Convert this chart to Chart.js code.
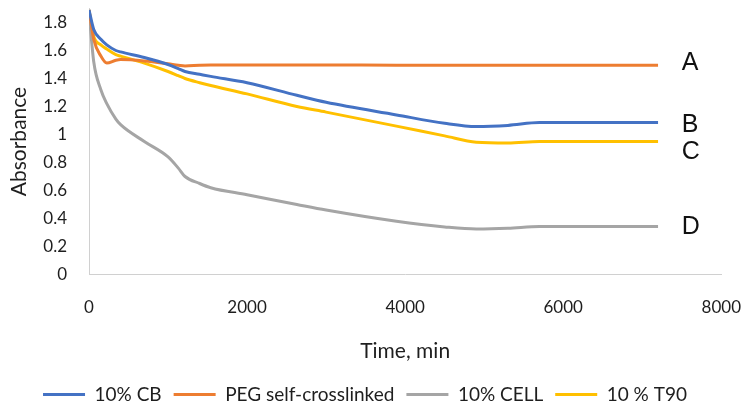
<!DOCTYPE html>
<html>
<head>
<meta charset="utf-8">
<script src="https://cdn.jsdelivr.net/npm/chart.js@4/dist/chart.umd.min.js"></script>
<style>
  html, body { margin: 0; padding: 0; background: #fff; }
  #wrap { width: 756px; height: 407px; }
</style>
</head>
<body>
<div id="wrap"><canvas id="absChart"></canvas></div>
<script>
const times = [0, 60, 150, 225, 340, 400, 700, 1000, 1130, 1215, 1400, 1540, 2000, 2630, 3000, 3890, 4500, 4900, 5300, 5700, 7200];
const cb    = [1.89, 1.75, 1.68, 1.64, 1.60, 1.59, 1.55, 1.50, 1.47, 1.45, 1.43, 1.415, 1.37, 1.28, 1.23, 1.14, 1.08, 1.057, 1.065, 1.085, 1.085];
const peg   = [1.89, 1.68, 1.56, 1.51, 1.53, 1.535, 1.525, 1.505, 1.495, 1.49, 1.495, 1.497, 1.497, 1.497, 1.497, 1.495, 1.495, 1.495, 1.495, 1.495, 1.495];
const cell  = [1.88, 1.52, 1.32, 1.22, 1.11, 1.07, 0.95, 0.84, 0.76, 0.70, 0.65, 0.62, 0.57, 0.50, 0.46, 0.38, 0.34, 0.325, 0.33, 0.343, 0.343];
const t90   = [1.89, 1.70, 1.64, 1.61, 1.57, 1.56, 1.51, 1.45, 1.42, 1.40, 1.37, 1.35, 1.29, 1.20, 1.16, 1.06, 0.99, 0.945, 0.94, 0.95, 0.95];

const seriesNames = ['10% CB', 'PEG self-crosslinked', '10% CELL', '10 % T90'];
const seriesColors = ['#4472C4', '#ED7D31', '#A5A5A5', '#FFC000'];

const yTicks = [0, 0.2, 0.4, 0.6, 0.8, 1, 1.2, 1.4, 1.6, 1.8];
const xTicks = [0, 2000, 4000, 6000, 8000];

// curve letters at the right end
const letters = ['A', 'B', 'C', 'D'];
const letterX = [7500, 7500, 7500, 7500];
const letterY = [1.51, 1.07, 0.875, 0.34];

const AREA_LEFT = 89;
const AREA_BOTTOM = 274.5;
const textColor = '#1e1e1e';

const pts = (ys) => times.map((t, i) => ({ x: t, y: ys[i] }));

const letterPlugin = {
  id: 'letters',
  afterDatasetsDraw(chart) {
    const { ctx, scales } = chart;
    ctx.save();
    ctx.font = '25px "Liberation Sans", Arial, sans-serif';
    ctx.fillStyle = '#111';
    ctx.textAlign = 'left';
    ctx.textBaseline = 'middle';
    letters.forEach((l, i) => {
      ctx.fillText(l, scales.x.getPixelForValue(letterX[i]), scales.y.getPixelForValue(letterY[i]));
    });
    ctx.restore();
  },
};

const datasets = [cb, peg, cell, t90].map((ys, i) => ({
  label: seriesNames[i],
  data: pts(ys),
  borderColor: seriesColors[i],
  backgroundColor: seriesColors[i],
  borderWidth: 3,
  pointRadius: 0,
  cubicInterpolationMode: 'monotone',
  fill: false,
}));

new Chart(document.getElementById('absChart'), {
  type: 'line',
  data: { datasets },
  plugins: [letterPlugin],
  options: {
    responsive: true,
    maintainAspectRatio: false,
    animation: false,
    layout: { padding: { left: 0, top: 8.5, right: 26, bottom: -7 } },
    scales: {
      x: {
        type: 'linear',
        min: 0,
        max: 8000,
        grid: { display: false },
        border: { display: true, color: '#d0d0d0', width: 1 },
        ticks: {
          padding: 15,
          color: textColor,
          font: { family: 'Lato', size: 17 },
          callback: (v) => String(v),
        },
        afterBuildTicks(scale) {
          scale.ticks = xTicks.map((v) => ({ value: v }));
        },
        title: {
          display: true,
          text: 'Time, min',
          color: textColor,
          font: { family: 'Lato', size: 21 },
          padding: { top: 0, bottom: 9 },
        },
        afterFit(scale) {
          const lh = scale.chart.legend ? scale.chart.legend.height : 0;
          scale.height = scale.chart.height + 7 - lh - AREA_BOTTOM;
        },
      },
      y: {
        min: 0,
        max: 1.9,
        grid: { display: false },
        border: { display: true, color: '#d0d0d0', width: 1 },
        ticks: {
          padding: 14,
          color: textColor,
          font: { family: 'Lato', size: 17 },
          callback: (v) => String(Math.round(v * 10) / 10),
        },
        afterBuildTicks(scale) {
          scale.ticks = yTicks.map((v) => ({ value: v }));
        },
        title: {
          display: true,
          text: 'Absorbance',
          color: textColor,
          font: { family: 'Lato', size: 21 },
          padding: { top: 7, bottom: 0 },
        },
        afterFit(scale) {
          scale.width = AREA_LEFT;
          scale.paddingTop = 0;
          scale.paddingBottom = 0;
        },
      },
    },
    plugins: {
      legend: {
        position: 'bottom',
        labels: {
          boxWidth: 42,
          boxHeight: 3,
          padding: 12,
          color: textColor,
          font: { family: 'Lato', size: 19 },
          generateLabels(chart) {
            return Chart.defaults.plugins.legend.labels.generateLabels(chart).map((l) => ({ ...l, lineWidth: 0 }));
          },
        },
      },
      tooltip: { enabled: false },
    },
  },
});
</script>
</body>
</html>
